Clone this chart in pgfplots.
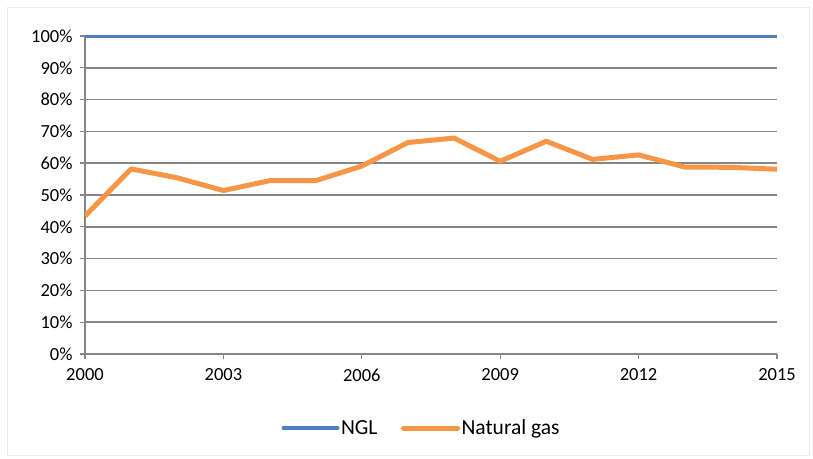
\documentclass[border=0pt]{standalone}
\usepackage{fontspec}
\setmainfont{Carlito}
\usepackage{pgfplots}
\pgfplotsset{compat=1.18}
\definecolor{nglBlue}{RGB}{79,129,189}
\definecolor{gasOrange}{RGB}{247,150,70}
\definecolor{gridGray}{RGB}{134,134,134}

\begin{document}
\begin{tikzpicture}
% page frame, 813 x 459
\path[use as bounding box] (-85bp,-105bp) rectangle (728bp,354bp);
\draw[black!8, line width=1bp] (-77bp,-101bp) rectangle (724bp,346bp);
\begin{axis}[
    at={(0,0)}, anchor=south west,
    scale only axis, width=692bp, height=318bp,
    xmin=2000, xmax=2015, ymin=0, ymax=100,
    xtick={2000,2003,...,2015},
    ytick={0,10,...,100},
    yticklabel={\pgfmathprintnumber{\tick}\%},
    /pgf/number format/1000 sep={},
    /pgf/number format/assume math mode=true,
    axis lines*=left,
    axis line style={gridGray, line width=1.4bp},
    tick align=outside,
    major tick length=5bp,
    tick style={gridGray, line width=1.4bp},
    ymajorgrids, major grid style={gridGray, line width=1.7bp},
    tick label style={font=\fontsize{18.5bp}{22bp}\selectfont},
    yticklabel style={xshift=-4bp},
    xticklabel style={yshift=-6bp},
    legend style={at={(0.486,-0.233)}, anchor=center, draw=none,
      font=\fontsize{21.5bp}{25bp}\selectfont, legend columns=2,
      nodes={inner sep=1.5bp},
      /tikz/every even column/.append style={column sep=22bp}},
    legend image code/.code={\draw[#1, line cap=round] (0bp,0bp) -- (54bp,0bp);},
]
\addplot[nglBlue, line width=4bp]
  coordinates {(2000,100)(2001,100)(2002,100)(2003,100)(2004,100)(2005,100)
  (2006,100)(2007,100)(2008,100)(2009,100)(2010,100)(2011,100)(2012,100)
  (2013,100)(2014,100)(2015,100)};
\addlegendentry{NGL}
\addplot[gasOrange, line width=5bp, line join=round]
  coordinates {(2000,43.4)(2001,58.2)(2002,55.4)(2003,51.4)(2004,54.5)
  (2005,54.5)(2006,59.1)(2007,66.5)(2008,67.9)(2009,60.6)(2010,66.9)
  (2011,61.2)(2012,62.6)(2013,58.8)(2014,58.7)(2015,58.1)};
\addlegendentry{Natural gas}
\end{axis}
\end{tikzpicture}
\end{document}
